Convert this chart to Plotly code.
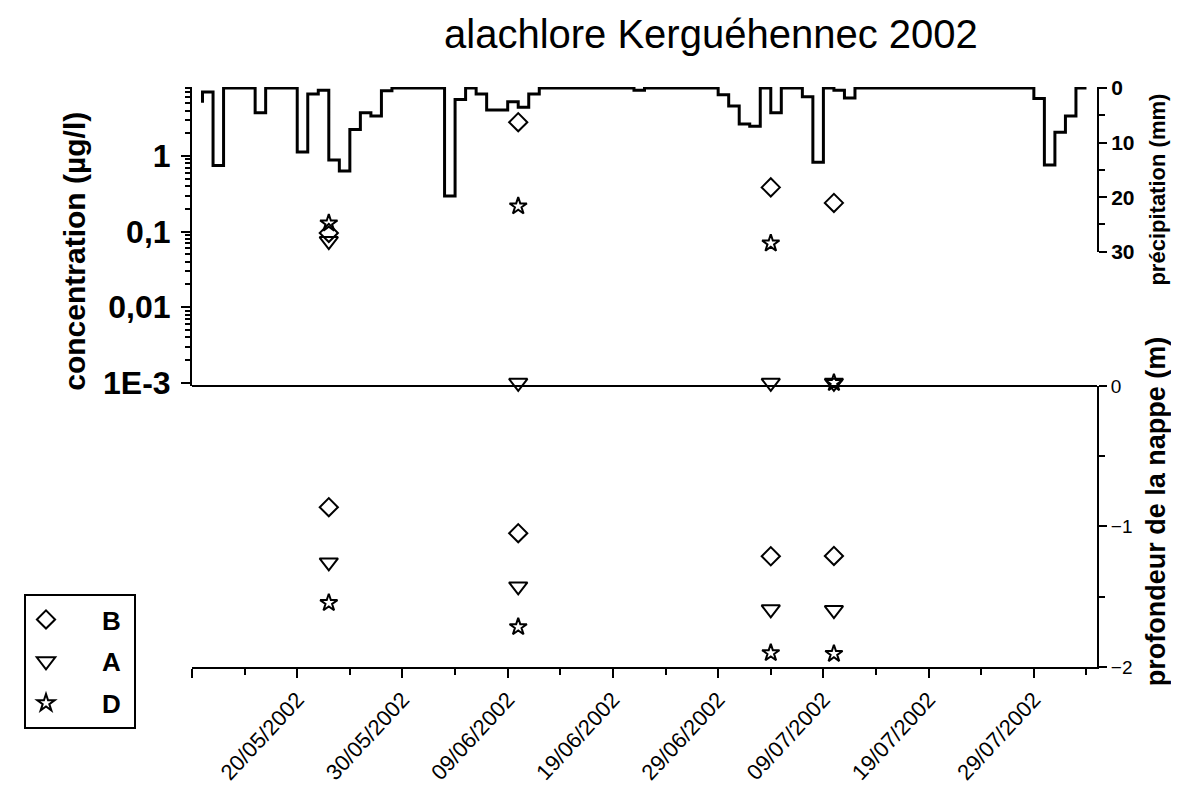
import pandas as pd
import plotly.graph_objects as go

# ---------------- data ----------------
rain_dates = pd.date_range("2002-05-11", "2002-08-03", freq="D")
rain_mm = [2.7, 0.7, 14.2, 0, 0, 0, 4.5, 0, 0, 0,
           11.7, 1.1, 0.4, 13.2, 15.2, 7.6, 4.5, 5.1, 0.5, 0,
           0, 0, 0, 0, 19.8, 2.1, 0, 1.1, 4.0, 4.0,
           2.5, 3.5, 1.1, 0, 0, 0, 0, 0, 0, 0,
           0, 0, 0.4, 0, 0, 0, 0, 0, 0, 0,
           1.2, 3.3, 6.6, 7.0, 0, 4.5, 0, 0, 1.6, 13.6,
           0, 0.4, 1.8, 0, 0, 0, 0, 0, 0, 0,
           0, 0, 0, 0, 0, 0, 0, 0, 0, 0,
           1.9, 14.1, 8.1, 5.1, 0]

sample_dates = ["2002-05-23", "2002-06-10", "2002-07-04", "2002-07-10"]
series_names = ["B", "A", "D"]
conc_B = [0.096, 2.8, 0.385, 0.24]
conc_A = [0.075, 0.001, 0.001, 0.001]
conc_D = [0.129, 0.217, 0.070, 0.001]
depth_B = [-0.863, -1.048, -1.212, -1.21]
depth_A = [-1.256, -1.427, -1.59, -1.595]
depth_D = [-1.544, -1.715, -1.90, -1.906]

x_major = ["2002-05-10", "2002-05-20", "2002-05-30", "2002-06-09", "2002-06-19",
           "2002-06-29", "2002-07-09", "2002-07-19", "2002-07-29"]
x_labels = ["", "20/05/2002", "30/05/2002", "09/06/2002", "19/06/2002",
            "29/06/2002", "09/07/2002", "19/07/2002", "29/07/2002"]
x_minor = ["2002-05-15", "2002-05-25", "2002-06-04", "2002-06-14", "2002-06-24",
           "2002-07-04", "2002-07-14", "2002-07-24", "2002-08-03"]

conc_ticks = [0.001, 0.01, 0.1, 1]
conc_labels = ["1E-3", "0,01", "0,1", "1"]
conc_minor = [m * d for d in (0.001, 0.01, 0.1) for m in range(2, 10)] + [2, 3, 4, 5, 6, 7, 8]

# ---------------- figure ----------------
FONT = "Liberation Sans, Arial, sans-serif"
fig = go.Figure()

fig.add_trace(go.Scatter(x=rain_dates, y=rain_mm, mode="lines", line_shape="vh",
                         line=dict(color="black", width=3), xaxis="x", yaxis="y2",
                         showlegend=False, hoverinfo="skip"))

symbols = {"B": "diamond-open", "A": "triangle-down-open", "D": "star-open"}
sizes = {"B": 14, "A": 16, "D": 13}
concs = {"B": conc_B, "A": conc_A, "D": conc_D}
depths = {"B": depth_B, "A": depth_A, "D": depth_D}

for i, nm in enumerate(series_names):
    mk = dict(symbol=symbols[nm], size=sizes[nm], color="black", line=dict(color="black", width=2))
    fig.add_trace(go.Scatter(x=sample_dates, y=concs[nm], mode="markers", marker=mk,
                             name="\u00a0\u00a0\u00a0\u00a0\u00a0" + nm + "\u00a0", legendgroup=nm,
                             xaxis="x", yaxis="y", cliponaxis=False))
    fig.add_trace(go.Scatter(x=sample_dates, y=depths[nm], mode="markers", marker=mk,
                             name=nm, legendgroup=nm, showlegend=False,
                             xaxis="x", yaxis="y3", cliponaxis=False))

W, H = 1179, 789
OFFX = 8


def fy(pic_y):
    # figure y (px) that lands on a given y of the photographed picture
    return (pic_y - 10) / 0.975


# plot area: x 192..1097, y 87..675 (picture pixels)
ml = 192 - OFFX
mr = W - (1097 - OFFX)
mt = round(fy(87))
mb = round(H - fy(675))
top_f, bot_f = mt, H - mb
pw = 1097 - 192
ph = bot_f - top_f


def px(x):
    return (x - 192) / pw


def py(pic_y):
    return (bot_f - fy(pic_y)) / ph


split = py(390)
prec_bottom = py(254)

axis_common = dict(showline=True, linecolor="black", linewidth=2, ticks="outside",
                   tickcolor="black", tickwidth=2, showgrid=False, zeroline=False)

fig.update_layout(
    width=W, height=H,
    margin=dict(l=ml, r=mr, t=mt, b=mb),
    paper_bgcolor="white", plot_bgcolor="rgba(0,0,0,0)",
    font=dict(family=FONT, color="black"),
    xaxis=dict(type="date", range=["2002-05-10", "2002-08-04"], domain=[0, 1], anchor="y3",
               tickmode="array", tickvals=x_major, ticktext=x_labels, tickangle=-47,
               ticklen=9, tickfont=dict(size=22, family=FONT),
               minor=dict(tickmode="array", tickvals=x_minor, ticks="outside", ticklen=6,
                          tickwidth=2, tickcolor="black"),
               **axis_common),
    yaxis=dict(type="log", range=[-3.04, 0.913], domain=[split, 1], anchor="x", side="left",
               tickmode="array", tickvals=conc_ticks, ticktext=conc_labels, ticklen=9,
               ticklabelstandoff=4,
               tickfont=dict(size=32, family=FONT, weight="bold"),
               minor=dict(tickmode="array", tickvals=conc_minor, ticks="outside", ticklen=5,
                          tickwidth=2, tickcolor="black"),
               **axis_common),
    yaxis2=dict(range=[30, -0.2], domain=[prec_bottom, 1], anchor="x", side="right",
                tickmode="array", tickvals=[0, 10, 20, 30], ticklen=8,
                tickfont=dict(size=21, family=FONT, weight="bold"),
                minor=dict(tickmode="array", tickvals=[5, 15, 25], ticks="outside", ticklen=6,
                           tickwidth=2, tickcolor="black"),
                **axis_common),
    yaxis3=dict(range=[-2, 0], domain=[0, split], anchor="x", side="right",
                tickmode="array", tickvals=[0, -1, -2], ticklen=8,
                tickfont=dict(size=19, family=FONT),
                minor=dict(tickmode="array", tickvals=[-0.5, -1.5], ticks="outside", ticklen=6,
                           tickwidth=2, tickcolor="black"),
                **axis_common),
    legend=dict(x=px(24), y=py(601), xanchor="left", yanchor="top",
                bordercolor="black", borderwidth=2, bgcolor="white",
                font=dict(size=26, family=FONT, weight="bold"),
                tracegroupgap=5, traceorder="grouped"),
    shapes=[dict(type="line", xref="paper", yref="paper", x0=0, x1=1, y0=split, y1=split,
                 line=dict(color="black", width=2))],
    annotations=[
        dict(text="alachlore Kerguéhennec 2002", xref="paper", yref="paper",
             x=px(711), y=py(33), showarrow=False, xanchor="center", yanchor="middle",
             font=dict(size=40, family=FONT, color="black")),
        dict(text="concentration (µg/l)", xref="paper", yref="paper",
             x=px(75), y=py(254), textangle=-90,
             showarrow=False, xanchor="center", yanchor="middle",
             font=dict(size=30, family=FONT, weight="bold")),
        dict(text="précipitation (mm)", xref="paper", yref="paper",
             x=px(1158), y=py(191), textangle=-90,
             showarrow=False, xanchor="center", yanchor="middle",
             font=dict(size=22, family=FONT, weight="bold")),
        dict(text="profondeur de la nappe (m)", xref="paper", yref="paper",
             x=px(1156), y=py(517), textangle=-90,
             showarrow=False, xanchor="center", yanchor="middle",
             font=dict(size=27, family=FONT, weight="bold")),
    ],
)

fig.write_html("out.html")
